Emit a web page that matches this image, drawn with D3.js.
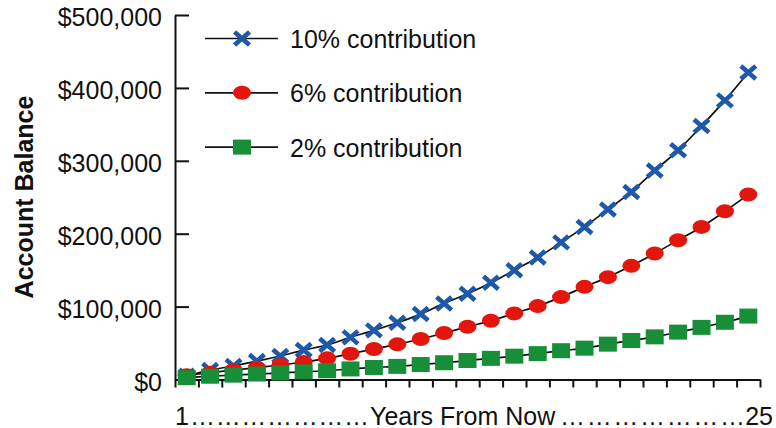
<!DOCTYPE html>
<html>
<head>
<meta charset="utf-8">
<script src="https://cdn.jsdelivr.net/npm/d3@7"></script>
<style>
  html, body { margin: 0; padding: 0; background: #fff; }
  svg { display: block; font-family: Arial, "Liberation Sans", sans-serif; }
</style>
</head>
<body>
<svg id="chart" width="776" height="428"></svg>
<script>
// Projected account balance by year for three contribution rates
const years = [1, 2, 3, 4, 5, 6, 7, 8, 9, 10, 11, 12, 13, 14, 15, 16, 17, 18, 19, 20, 21, 22, 23, 24, 25];
const contrib10 = [5000, 13000, 18500, 25300, 32200, 40400, 47300, 57800, 67400, 77800, 89700, 104400, 117500,
                   132600, 150000, 167400, 188100, 209300, 233200, 257300, 286600, 314400, 347700, 382900, 421200];
const contrib6 = [6000, 9300, 13000, 16200, 19900, 24000, 29000, 35300, 41800, 48200, 55500, 63700, 72300,
                  80500, 90700, 100700, 113000, 127100, 140400, 155900, 172900, 191100, 209300, 230800, 253700];
const contrib2 = [2500, 4500, 6000, 7500, 9000, 10500, 12000, 14500, 16500, 18000, 20500, 23000, 26000,
                  29000, 32000, 35500, 39500, 43000, 48500, 53500, 58500, 65000, 71500, 78500, 87000];
const seriesNames = ["10% contribution", "6% contribution", "2% contribution"];
const yTickValues = [0, 100000, 200000, 300000, 400000, 500000];
const xStartLabel = "1";
const xEndLabel = "25";
const xAxisTitle = "Years From Now";
const yAxisTitle = "Account Balance";

const svg = d3.select("#chart");
const FONT = 25;

const x = d3.scaleLinear()
  .domain([years[0] - 0.5, years[years.length - 1] + 0.5])
  .range([175, 760]);
const y = d3.scaleLinear().domain([0, 500000]).range([379.5, 15]);

// Y axis: ticks pointing into the plot
const yAxis = svg.append("g")
  .attr("transform", `translate(${x.range()[0]},0)`)
  .call(d3.axisLeft(y)
    .tickValues(yTickValues)
    .tickSizeInner(-14)
    .tickSizeOuter(0)
    .tickPadding(13)
    .tickFormat(d => "$" + d3.format(",")(d)));
yAxis.select(".domain").attr("stroke", "#111").attr("stroke-width", 2);
yAxis.selectAll(".tick line").attr("stroke", "#111").attr("stroke-width", 2);
yAxis.selectAll(".tick text")
  .attr("font-size", FONT)
  .attr("font-family", "Arial, 'Liberation Sans', sans-serif")
  .attr("fill", "#111")
  .attr("dy", "0.42em");

// X axis: tick marks between the yearly categories
const boundaries = years.map(d => d - 0.5).concat([years[years.length - 1] + 0.5]);
const xAxis = svg.append("g")
  .attr("transform", `translate(0,${y(0)})`)
  .call(d3.axisBottom(x)
    .tickValues(boundaries)
    .tickFormat("")
    .tickSizeInner(8)
    .tickSizeOuter(0));
xAxis.select(".domain").attr("stroke", "#111").attr("stroke-width", 2);
xAxis.selectAll(".tick line").attr("stroke", "#111").attr("stroke-width", 2);

// X axis caption: first year, title, last year joined by dot leaders
const capY = 424.5;
const capGroup = svg.append("g").attr("font-size", FONT).attr("fill", "#111");
capGroup.append("text").attr("x", 175).attr("y", capY).text(xStartLabel);
capGroup.append("text").attr("x", 370).attr("y", capY).text(xAxisTitle);
capGroup.append("text").attr("x", 773).attr("y", capY).attr("text-anchor", "end").text(xEndLabel);
const leader = "\u2026\u2026\u2026\u2026\u2026\u2026\u2026";
capGroup.append("text").attr("x", 190).attr("y", capY)
  .attr("textLength", 179).attr("lengthAdjust", "spacing").text(leader);
capGroup.append("text").attr("x", 560).attr("y", capY)
  .attr("textLength", 185).attr("lengthAdjust", "spacing").text(leader);

// Y axis title
svg.append("text")
  .attr("transform", "translate(33,197) rotate(-90)")
  .attr("text-anchor", "middle")
  .attr("font-size", FONT)
  .attr("font-weight", "bold")
  .attr("fill", "#111")
  .text(yAxisTitle);

// Marker shapes
const markers = [
  { color: "#1e58a8", draw: (g) => g.append("path")
      .attr("d", "M-7.5,-6.5L7.5,6.5M-7.5,6.5L7.5,-6.5")
      .attr("stroke", "#1e58a8").attr("stroke-width", 4.6).attr("fill", "none") },
  { color: "#e2160c", draw: (g) => g.append("ellipse")
      .attr("rx", 9).attr("ry", 7).attr("fill", "#e2160c") },
  { color: "#178f38", draw: (g) => g.append("rect")
      .attr("x", -9).attr("y", -7.5).attr("width", 18).attr("height", 15).attr("fill", "#178f38") }
];

const seriesValues = [contrib10, contrib6, contrib2];
const line = d3.line()
  .x((d, i) => x(years[i]))
  .y(d => y(d))
  .curve(d3.curveMonotoneX);

seriesValues.forEach((vals, s) => {
  const g = svg.append("g").attr("class", "series");
  g.append("path")
    .datum(vals)
    .attr("d", line)
    .attr("fill", "none")
    .attr("stroke", "#111")
    .attr("stroke-width", 1.7);
  g.selectAll("g.pt")
    .data(vals)
    .join("g")
    .attr("class", "pt")
    .attr("transform", (d, i) => `translate(${x(years[i])},${y(d)})`)
    .each(function () { markers[s].draw(d3.select(this)); });
});

// Legend
seriesNames.forEach((name, i) => {
  const ly = 38.5 + i * 54.3;
  const g = svg.append("g").attr("transform", `translate(0,${ly})`);
  g.append("line").attr("x1", 205).attr("x2", 278).attr("y1", 0).attr("y2", 0)
    .attr("stroke", "#111").attr("stroke-width", 1.7);
  const m = g.append("g").attr("transform", "translate(242,0)");
  markers[i].draw(m);
  g.append("text")
    .attr("x", 290)
    .attr("y", 0)
    .attr("dy", "0.38em")
    .attr("font-size", FONT)
    .attr("fill", "#111")
    .text(name);
});
</script>
</body>
</html>
